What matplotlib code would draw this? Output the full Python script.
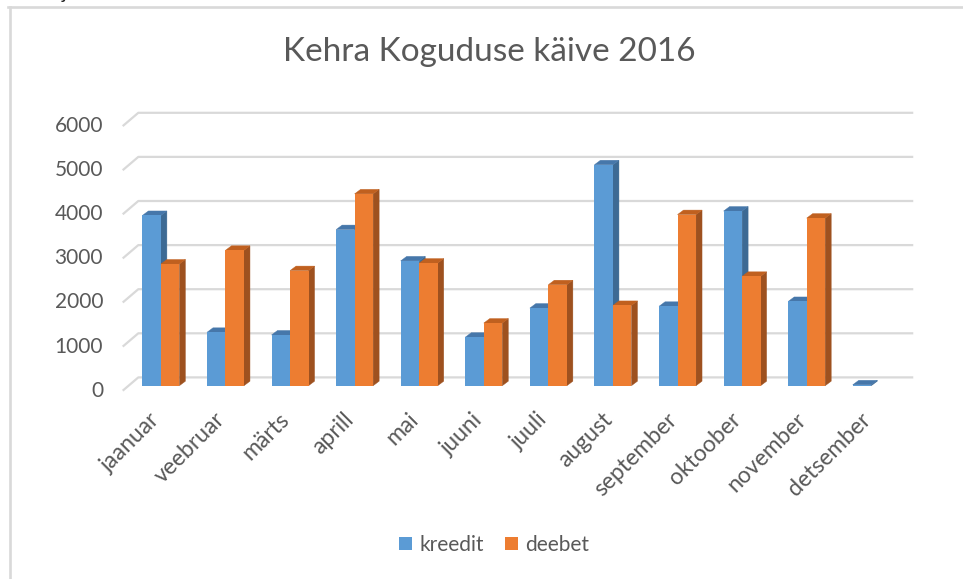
import matplotlib
matplotlib.use('Agg')
import matplotlib.pyplot as plt
from matplotlib.patches import Polygon, Patch
from matplotlib.lines import Line2D

# ---------------- data ----------------
months = ['jaanuar', 'veebruar', 'märts', 'aprill', 'mai', 'juuni', 'juuli',
          'august', 'september', 'oktoober', 'november', 'detsember']
kreedit = [3860, 1210, 1150, 3540, 2830, 1100, 1760, 5010, 1800, 3960, 1910, 20]
deebet = [2760, 3070, 2610, 4350, 2780, 1420, 2290, 1820, 3880, 2480, 3800, 0]
series_names = ['kreedit', 'deebet']
yticks = [0, 1000, 2000, 3000, 4000, 5000, 6000]
title = 'Kehra Koguduse käive 2016'

# ---------------- style ----------------
plt.rcParams['font.family'] = ['Lato', 'DejaVu Sans']
TXT = '#595959'
GRID = '#d9d9d9'
front_col = ['#5B9BD5', '#ED7D31']
side_col = ['#3D6A94', '#9E511F']
top_col = ['#4677AA', '#C0601F']

W, H = 963, 579
fig = plt.figure(figsize=(W / 100, H / 100), dpi=100)

# pixel geometry of the bar plane
X0 = 128.6     # left edge of category band (px)
CW = 64.58     # category width (px)
Y0 = 385.7     # baseline (px from top)
PPU = 0.0441   # px per value unit

ax_l, ax_r, ax_t, ax_b = 100, 930, 100, 400
ax = fig.add_axes([ax_l / W, 1 - ax_b / H, (ax_r - ax_l) / W, (ax_b - ax_t) / H])


def xd(px):
    return (px - X0) / CW - 0.5


def yd(py):
    return (Y0 - py) / PPU


ax.set_xlim(xd(ax_l), xd(ax_r))
ax.set_ylim(yd(ax_b), yd(ax_t))
ax.axis('off')

# depth offsets
dxf, dyf = -5.9 / CW, -5.0 / PPU      # front edge of floor
dxb, dyb = 9.7 / CW, 8.3 / PPU        # back wall
bdx, bdy = 6.0 / CW, 4.5 / PPU        # bar depth

n = len(months)
xl, xr = -0.5, n - 0.5

# gridlines (back wall + left side wall)
for t in yticks:
    ax.plot([xl + dxf, xl + dxb, xr + dxb], [t + dyf, t + dyb, t + dyb],
            color=GRID, lw=1.6, zorder=1, solid_capstyle='butt', clip_on=False)
    ax.text(xl + dxf - 19.7 / CW, t + dyf, f'{t}', ha='right', va='center',
            fontsize=15, color=TXT)

# bars
w = 18.5 / CW
for s, vals in enumerate([kreedit, deebet]):
    z = 2 + s
    xs = [i + (s - 0.5) * w for i in range(n)]
    hs = [v if v > 0 else 0 for v in vals]
    ax.bar(xs, hs, width=w, color=front_col[s], linewidth=0, zorder=z + 0.1)
    for x, h in zip(xs, vals):
        if h <= 0:
            continue
        L, R = x - w / 2, x + w / 2
        side = Polygon([(R, 0), (R + bdx, bdy), (R + bdx, h + bdy), (R, h)],
                       closed=True, facecolor=side_col[s], edgecolor=side_col[s],
                       lw=0.3, zorder=z)
        top = Polygon([(L, h), (L + bdx, h + bdy), (R + bdx, h + bdy), (R, h)],
                      closed=True, facecolor=top_col[s], edgecolor=top_col[s],
                      lw=0.3, zorder=z)
        ax.add_patch(side)
        ax.add_patch(top)

# category labels
for i, m in enumerate(months):
    ax.text(i - 0.18, yd(409), m, rotation=45, ha='right', va='top',
            rotation_mode='anchor', fontsize=16.5, color=TXT)

# title
fig.text(489 / W, 1 - 52 / H, title, ha='center', va='center', fontsize=24,
         color=TXT)

# legend
handles = [Patch(facecolor=c, edgecolor='none') for c in front_col]
fig.legend(handles, series_names, loc='center', ncol=2, frameon=False,
           bbox_to_anchor=(494 / W, 1 - 545 / H), fontsize=15,
           handlelength=0.62, handleheight=0.62, handletextpad=0.35,
           columnspacing=1.0, labelcolor=TXT)

# chart-area border (top and left)
fig.add_artist(Line2D([8 / W, 1], [1 - 6.5 / H, 1 - 6.5 / H], color=GRID, lw=1.9,
                      transform=fig.transFigure))
fig.add_artist(Line2D([9.5 / W, 9.5 / W], [0, 1 - 6.5 / H], color=GRID, lw=1.9,
                      transform=fig.transFigure))

# fragment of cropped text at the top-left (as in the reference)
fig.text(62 / W, 1 + 1.5 / H, 'j', ha='left', va='baseline', fontsize=14,
         color='#222222')

fig.savefig('out.png', dpi=100, facecolor='white')
